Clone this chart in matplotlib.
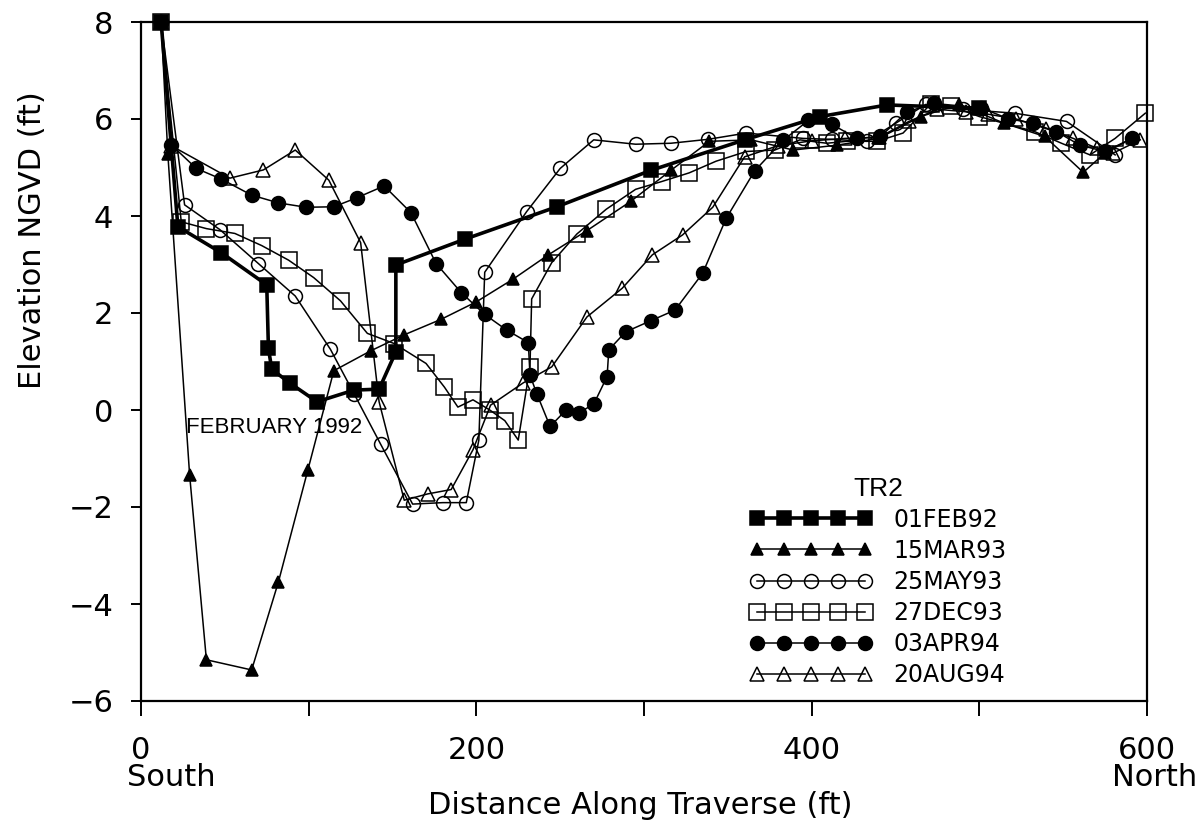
import matplotlib

matplotlib.use("Agg")
import matplotlib.pyplot as plt

# ---- data (distance ft, elevation ft NGVD) ----
FEB92_X = [12, 22, 48, 75, 76, 78, 89, 105, 127, 142, 152, 152, 193, 248, 304, 360, 405, 445, 500]
FEB92_Y = [8.0, 3.78, 3.24, 2.58, 1.27, 0.84, 0.55, 0.17, 0.41, 0.43, 1.20, 2.99, 3.52, 4.19, 4.94, 5.57, 6.05, 6.29, 6.22]

MAR93_X = [12, 16, 29, 39, 66, 82, 99.5, 115, 137, 157, 179, 200, 222, 243, 266, 292, 316, 339, 364,
           389, 415, 440, 465, 488, 515, 539, 562, 575, 591]
MAR93_Y = [8.0, 5.28, -1.34, -5.15, -5.36, -3.54, -1.24, 0.81, 1.22, 1.55, 1.87, 2.23, 2.70, 3.20, 3.70,
           4.30, 4.94, 5.54, 5.57, 5.36, 5.46, 5.60, 6.05, 6.30, 5.91, 5.64, 4.90, 5.30, 5.60]

MAY93_X = [12, 26, 47, 70, 92, 113, 127, 143, 162, 180, 194, 201.5, 205, 230, 250, 270, 295, 316, 338,
           361, 395, 412, 433, 450, 468, 490, 521, 552, 581]
MAY93_Y = [8.0, 4.23, 3.72, 3.02, 2.35, 1.25, 0.34, -0.71, -1.94, -1.91, -1.91, -0.62, 2.84, 4.09, 4.98,
           5.57, 5.48, 5.50, 5.58, 5.71, 5.60, 5.58, 5.54, 5.91, 6.30, 6.20, 6.12, 5.95, 5.26]

DEC93_X = [12, 24, 39, 56, 72, 88, 103, 119, 135, 151, 170, 181, 189, 198, 208, 217, 225, 232, 233, 245,
           260, 277.5, 295, 310.5, 327, 343, 361, 378, 393, 409, 421, 439, 454.5, 471, 483, 500, 533, 549,
           566, 581, 599]
DEC93_Y = [8.0, 3.88, 3.74, 3.64, 3.39, 3.09, 2.73, 2.25, 1.58, 1.37, 0.96, 0.47, 0.06, 0.21, 0.0, -0.22,
           -0.62, 0.89, 2.29, 3.04, 3.63, 4.14, 4.55, 4.71, 4.89, 5.13, 5.33, 5.36, 5.57, 5.50, 5.54, 5.54,
           5.71, 6.31, 6.27, 6.05, 5.74, 5.50, 5.26, 5.60, 6.12]

APR94_X = [12, 18, 33, 48, 66, 82, 98.5, 115, 129, 145, 161, 176, 191, 205, 218, 231, 232, 236, 244,
           253.5, 261, 270, 278, 279, 289, 304, 318.5, 335, 349, 366, 383, 398, 412, 427, 441, 457, 473,
           501, 517, 532, 546, 560, 575, 591]
APR94_Y = [8.0, 5.47, 4.98, 4.76, 4.43, 4.27, 4.18, 4.19, 4.38, 4.62, 4.07, 3.02, 2.42, 1.97, 1.65, 1.39,
           0.72, 0.34, -0.34, 0.0, -0.06, 0.12, 0.69, 1.24, 1.61, 1.84, 2.06, 2.82, 3.95, 4.93, 5.56, 5.97,
           5.89, 5.60, 5.64, 6.15, 6.32, 6.23, 6.01, 5.91, 5.74, 5.46, 5.33, 5.60]

AUG94_X = [12, 18, 53, 73, 92, 112, 131, 142, 157, 171, 185, 198, 208.5, 228, 245, 266, 287, 305, 323,
           341, 360, 380, 400, 420, 440, 458, 475, 492, 505, 522, 540, 556, 570, 580, 596]
AUG94_Y = [8.0, 5.45, 4.78, 4.95, 5.36, 4.74, 3.45, 0.17, -1.86, -1.73, -1.64, -0.82, 0.10, 0.56, 0.89,
           1.92, 2.51, 3.20, 3.61, 4.18, 5.22, 5.45, 5.55, 5.60, 5.62, 5.95, 6.20, 6.15, 6.10, 6.00, 5.80,
           5.60, 5.40, 5.30, 5.57]

LABELS = ["01FEB92", "15MAR93", "25MAY93", "27DEC93", "03APR94", "20AUG94"]
X_TICKS = [0, 100, 200, 300, 400, 500, 600]
X_TICK_LABELS = ["0", "", "200", "", "400", "", "600"]
Y_TICKS = [-6, -4, -2, 0, 2, 4, 6, 8]

FONT = dict(family="DejaVu Sans")
FS = 22

STYLES = [
    dict(marker="s", ms=10, mfc="black", lw=2.6),
    dict(marker="^", ms=9, mfc="black", lw=1.1),
    dict(marker="o", ms=10, mfc="none", lw=1.1),
    dict(marker="s", ms=11, mfc="none", lw=1.1),
    dict(marker="o", ms=10, mfc="black", lw=1.1),
    dict(marker="^", ms=10, mfc="none", lw=1.1),
]
SERIES = [(FEB92_X, FEB92_Y), (MAR93_X, MAR93_Y), (MAY93_X, MAY93_Y),
          (DEC93_X, DEC93_Y), (APR94_X, APR94_Y), (AUG94_X, AUG94_Y)]

fig = plt.figure(figsize=(11.99, 8.27), dpi=100)
ax = fig.add_axes([141 / 1199, 1 - 701 / 827, (1147 - 141) / 1199, (701 - 22) / 827])

handles = []
for (xs, ys), st, lab in zip(SERIES, STYLES, LABELS):
    (h,) = ax.plot(xs, ys, color="black", marker=st["marker"], ms=st["ms"], mfc=st["mfc"],
                   mec="black", mew=1.1, lw=st["lw"], clip_on=False, label=lab)
    handles.append(h)

ax.set_xlim(0, 600)
ax.set_ylim(-6, 8)
for sp in ax.spines.values():
    sp.set_linewidth(1.6)

ax.set_xticks(X_TICKS)
ax.set_xticklabels(X_TICK_LABELS, fontsize=FS, **FONT)
ax.set_yticks(Y_TICKS)
ax.set_yticklabels([f"{v}".replace("-", "\u2212") for v in Y_TICKS], fontsize=FS, **FONT)
ax.tick_params(axis="x", direction="out", length=11, width=1.4, pad=14)
ax.tick_params(axis="y", direction="out", length=7, width=1.4, pad=13)

# direction labels under the end ticks
fig.text(127 / 1199, 1 - 778 / 827, "South", ha="left", va="center", fontsize=FS, **FONT)
fig.text(1197 / 1199, 1 - 778 / 827, "North", ha="right", va="center", fontsize=FS, **FONT)

fig.text(640 / 1199, 1 - 805 / 827, "Distance Along Traverse (ft)", ha="center", va="center",
         fontsize=FS, **FONT)
fig.text(33 / 1199, 1 - 240 / 827, "Elevation NGVD (ft)", ha="center", va="center",
         rotation=90, fontsize=FS, **FONT)

ax.text(27, -0.37, "FEBRUARY 1992", ha="left", va="center", fontsize=16,
        family="Liberation Sans")

leg = ax.legend(handles=handles, loc="upper left", bbox_to_anchor=(733 / 1199, 1 - 460 / 827),
                bbox_transform=fig.transFigure, frameon=False, numpoints=5, handlelength=5.2,
                handletextpad=0.9, labelspacing=0.3, borderpad=0.2,
                prop=dict(size=17, **FONT),
                title="TR2", title_fontproperties=dict(size=19, family="Liberation Sans"))

fig.savefig("out.png", dpi=100)
